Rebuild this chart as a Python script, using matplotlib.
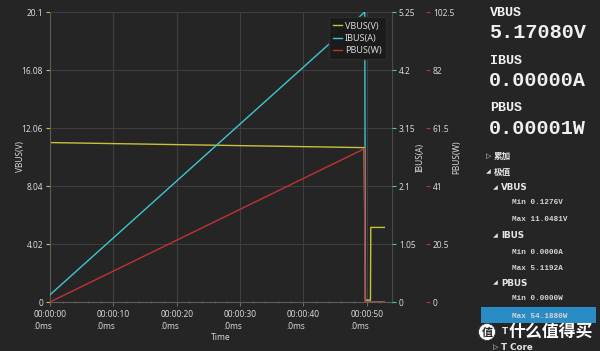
import matplotlib
matplotlib.use('Agg')
import matplotlib.pyplot as plt
from matplotlib.patches import Rectangle, Ellipse
from matplotlib.ticker import MultipleLocator

BG = '#252526'
GRID = '#3e3e3e'
TXT = '#d8d8d8'
C_V = '#c9c13c'
C_I = '#3fc6cf'
C_P = '#c23232'

# ---- data ----
time_v = [0, 49.6, 49.8, 50.6, 50.65, 52.8]
vbus = [11.05, 10.70, 0.13, 0.13, 5.17, 5.17]
time_i = [0, 49.7, 49.8, 52.8]
ibus = [0.13, 5.25, 0.0, 0.0]
time_p = [0, 49.65, 49.75, 52.8]
pbus = [0.0, 54.19, 0.0, 0.0]

x_ticks = [0, 10, 20, 30, 40, 50]
x_labels = ['00:00:00\n.0ms', '00:00:10\n.0ms', '00:00:20\n.0ms',
            '00:00:30\n.0ms', '00:00:40\n.0ms', '00:00:50\n.0ms']
v_ticks = [0, 4.02, 8.04, 12.06, 16.08, 20.1]
v_labels = ['0', '4.02', '8.04', '12.06', '16.08', '20.1']
i_ticks = [0, 1.05, 2.1, 3.15, 4.2, 5.25]
i_labels = ['0', '1.05', '2.1', '3.15', '4.2', '5.25']
p_ticks = [0, 20.5, 41, 61.5, 82, 102.5]
p_labels = ['0', '20.5', '41', '61.5', '82', '102.5']

big_names = ['VBUS', 'IBUS', 'PBUS']
big_values = ['5.17080V', '0.00000A', '0.00001W']
stat_lines = ['Min 0.1276V', 'Max 11.0481V', 'Min 0.0000A', 'Max 5.1192A',
              'Min 0.0000W', 'Max 54.1880W']

plt.rcParams['font.family'] = ['Noto Sans', 'DejaVu Sans']
W, H = 600, 351
fig = plt.figure(figsize=(6, 3.51), dpi=100, facecolor=BG)

L, R, T, B = 50, 392, 12, 302
ax = fig.add_axes([L / W, 1 - B / H, (R - L) / W, (B - T) / H])
ax.set_facecolor(BG)
ax2 = ax.twinx()
ax3 = ax.twinx()
for a in (ax2, ax3):
    a.patch.set_visible(False)

ax.plot(time_v, vbus, color=C_V, lw=1.0, label='VBUS(V)')
l2, = ax2.plot(time_i, ibus, color=C_I, lw=1.0, label='IBUS(A)')
l3, = ax3.plot(time_p, pbus, color=C_P, lw=1.0, label='PBUS(W)')

ax.set_xlim(0, 54)
ax.set_ylim(0, 20.1)
ax2.set_ylim(0, 5.25)
ax3.set_ylim(0, 102.5)

ax.set_xticks(x_ticks)
ax.set_xticklabels(x_labels)
ax.xaxis.set_minor_locator(MultipleLocator(2))
ax.set_yticks(v_ticks)
ax.set_yticklabels(v_labels)
ax2.set_yticks(i_ticks)
ax2.set_yticklabels(i_labels)
ax3.set_yticks(p_ticks)
ax3.set_yticklabels(p_labels)

ax.grid(True, which='major', color=GRID, lw=0.8)
ax.set_axisbelow(True)

for a in (ax, ax2, ax3):
    for s in a.spines.values():
        s.set_visible(False)
ax.spines['left'].set_visible(True)
ax.spines['left'].set_color('#5c5c5c')
ax.spines['bottom'].set_visible(True)
ax.spines['bottom'].set_color('#5c5c5c')
ax.spines['top'].set_visible(True)
ax.spines['top'].set_color(GRID)
ax.spines['right'].set_visible(True)
ax.spines['right'].set_color('#4a4a4a')
ax3.spines['right'].set_position(('axes', (426 - L) / (R - L)))

fs = 6
ax.tick_params(axis='x', which='major', colors='#6a6a6a', labelcolor=TXT,
               labelsize=fs, length=3, pad=3)
ax.tick_params(axis='x', which='minor', colors='#6a6a6a', length=2, direction='inout')
ax.tick_params(axis='y', colors=C_V, labelcolor=TXT, labelsize=fs, length=3, pad=2)
ax2.tick_params(axis='y', colors=C_I, labelcolor=TXT, labelsize=fs, length=3, pad=2)
ax3.tick_params(axis='y', colors=C_P, labelcolor=TXT, labelsize=fs, length=3, pad=2)
for lbl in ax.get_xticklabels():
    lbl.set_multialignment('left')
    lbl.set_linespacing(1.35)

ax.set_xlabel('Time', color=TXT, fontsize=fs)
ax.xaxis.set_label_coords(0.5, (B - 337) / (B - T))
ax.xaxis.label.set_va('center')
ax.set_ylabel('VBUS(V)', color=TXT, fontsize=fs)
ax.yaxis.set_label_coords((20 - L) / (R - L), 0.5)
ax.yaxis.label.set_va('center')
ax2.set_ylabel('IBUS(A)', color=TXT, fontsize=fs)
ax2.yaxis.set_label_coords((420 - L) / (R - L), 0.5)
ax2.yaxis.label.set_va('center')
ax3.set_ylabel('PBUS(W)', color=TXT, fontsize=fs)
ax3.yaxis.set_label_coords((457 - L) / (R - L), 0.5)
ax3.yaxis.label.set_va('center')

handles = [ax.get_lines()[0], l2, l3]
leg = ax3.legend(handles=handles, loc='upper right',
                 bbox_to_anchor=((386 - L) / (R - L), (B - 17) / (B - T)),
                 borderaxespad=0, fontsize=6.5, frameon=True, fancybox=False,
                 handlelength=1.0, handletextpad=0.3, labelspacing=0.35,
                 borderpad=0.5)
leg.get_frame().set_facecolor('#1b1b1b')
leg.get_frame().set_edgecolor('#2c2c2c')
leg.get_frame().set_alpha(1)
for t in leg.get_texts():
    t.set_color(TXT)


def ftext(x, y, s, **kw):
    kw.setdefault('va', 'center')
    kw.setdefault('ha', 'left')
    return fig.text(x / W, 1 - y / H, s, **kw)


mono = 'Liberation Mono'
name_y = [12.5, 61, 108]
val_y = [32.5, 80, 128.5]
for n, v, yn, yv in zip(big_names, big_values, name_y, val_y):
    ftext(490, yn, n, family=mono, fontweight='bold', fontsize=9.6, color='#f0f0f0')
    ftext(489, yv, v, family=mono, fontweight='bold', fontsize=14.5, color='#f0f0f0')

cjk = ['Noto Sans CJK SC', 'DejaVu Sans']
TREE = '#e6e6e6'
ftext(486, 156, '▷', family='DejaVu Sans', fontsize=5, color=TREE)
ftext(494, 156, '累加', family=cjk, fontweight='bold', fontsize=6.2, color=TREE)
ftext(486, 172, '◢', family='DejaVu Sans', fontsize=4.5, color=TREE)
ftext(494, 172, '极值', family=cjk, fontweight='bold', fontsize=6.2, color=TREE)

sub_heads = ['VBUS', 'IBUS', 'PBUS']
sub_y = [188, 236, 283]
for s, y in zip(sub_heads, sub_y):
    ftext(493, y, '◢', family='DejaVu Sans', fontsize=4.5, color=TREE)
    ftext(501, y, s, family='DejaVu Sans', fontweight='bold', fontsize=6.3, color=TREE)

# highlight box
fig.patches.append(Rectangle((481 / W, 1 - 323 / H), 115 / W, 16 / H,
                             transform=fig.transFigure, facecolor='#2a8cc5',
                             edgecolor='none', zorder=0))
stat_y = [203, 220, 252, 268, 299, 316]
for s, y in zip(stat_lines, stat_y):
    ftext(512, y, s, family=mono, fontweight='bold', fontsize=5.5, color='#d6d6d6')

ftext(502, 332, 'T', family='DejaVu Sans', fontweight='bold', fontsize=6.3,
      color=TREE, zorder=5)
ftext(493, 347, '▷', family='DejaVu Sans', fontsize=5, color=TREE)
ftext(501, 347, 'T Core', family='DejaVu Sans', fontweight='bold', fontsize=6.3, color=TREE)

# watermark
fig.patches.append(Ellipse((487 / W, 1 - 332 / H), 17 / W, 17 / H,
                           transform=fig.transFigure, facecolor='white',
                           edgecolor='#333333', lw=0.6, zorder=6))
ftext(487, 332.5, '值', family=cjk, fontweight='bold', fontsize=8, color='#222222',
      ha='center', zorder=10)
ftext(509, 332, '什么值得买', family=cjk, fontweight='bold', fontsize=12.2,
      color='white', zorder=10)

fig.savefig('out.png', dpi=100, facecolor=BG)
